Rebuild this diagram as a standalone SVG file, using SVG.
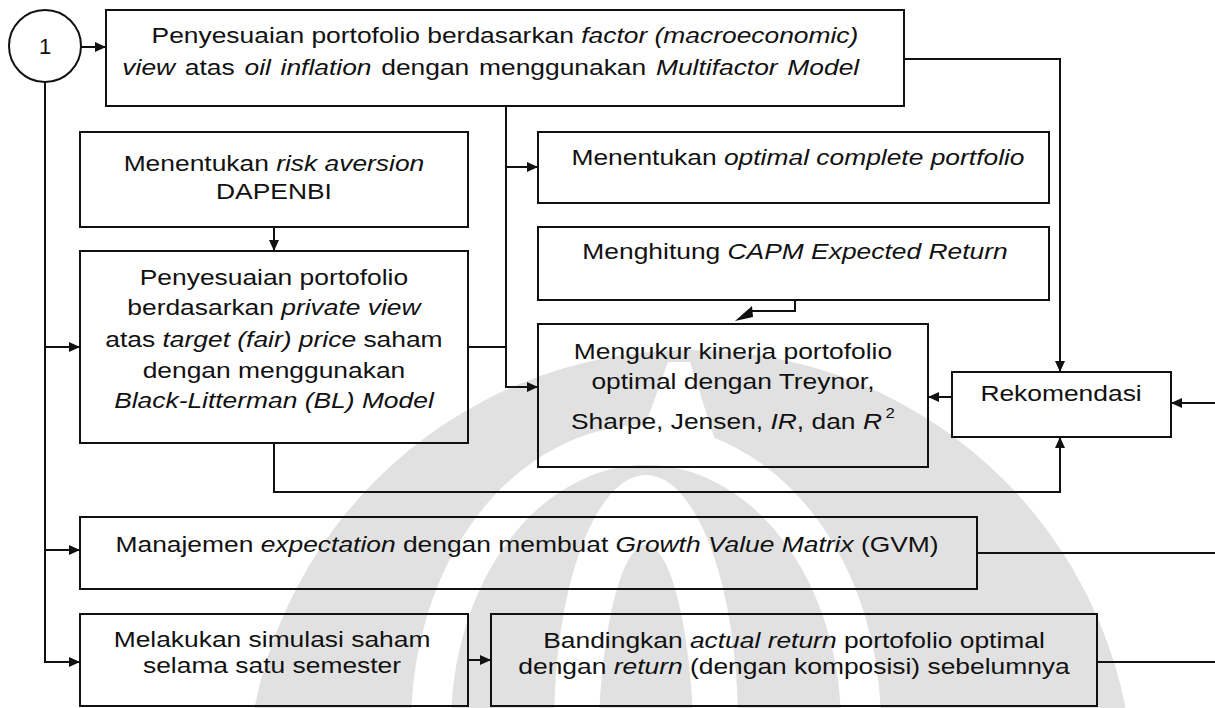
<svg xmlns="http://www.w3.org/2000/svg" width="1215" height="708" viewBox="0 0 1215 708">
<style>
.box{fill:none;stroke:#111;stroke-width:2}
.ln{fill:none;stroke:#111;stroke-width:2}
.t{font-family:"Liberation Sans",Arial,sans-serif;font-size:22px;fill:#111;text-anchor:middle}
.i{font-style:italic}
.wm{fill:#e1e1e1}
</style>
<defs>
<marker id="ah" markerUnits="userSpaceOnUse" markerWidth="12" markerHeight="10" refX="11" refY="5" orient="auto">
<path d="M0,0 L11,5 L0,10 z" fill="#111"/>
</marker>
</defs>
<rect width="1215" height="708" fill="#fff"/>
<g id="watermark">
<circle class="wm" cx="690" cy="794" r="444"/>
<polygon points="668,362 690,362 722,462 632,462" fill="#fff"/>
<ellipse cx="646" cy="725" rx="215" ry="280" fill="none" stroke="#fff" stroke-width="40"/>
<ellipse cx="646" cy="725" rx="92" ry="250" fill="#fff"/>
<ellipse cx="646" cy="760" rx="48" ry="215" class="wm"/>
</g>
<g id="connectors">
<path class="ln" d="M81,47 H106" marker-end="url(#ah)"/>
<path class="ln" d="M45,82 V662 H80" marker-end="url(#ah)"/>
<path class="ln" d="M45,347 H80" marker-end="url(#ah)"/>
<path class="ln" d="M45,550 H80" marker-end="url(#ah)"/>
<path class="ln" d="M274,227 V251" marker-end="url(#ah)"/>
<path class="ln" d="M506,106 V387 H538" marker-end="url(#ah)"/>
<path class="ln" d="M506,167 H538" marker-end="url(#ah)"/>
<path class="ln" d="M468,347 H506"/>
<path class="ln" d="M904,59 H1060 V372" marker-end="url(#ah)"/>
<path class="ln" d="M795,300 V311 H750"/>
<polygon points="735,321 752,306 753,317" fill="#111"/>
<path class="ln" d="M952,397 H928" marker-end="url(#ah)"/>
<path class="ln" d="M1215,403 H1171" marker-end="url(#ah)"/>
<path class="ln" d="M274,443 V492 H1060 V437" marker-end="url(#ah)"/>
<path class="ln" d="M977,553 H1215"/>
<path class="ln" d="M468,660 H491" marker-end="url(#ah)"/>
<path class="ln" d="M1097,662 H1215"/>
</g>
<g id="n-start">
<circle cx="45" cy="46" r="36" fill="none" stroke="#111" stroke-width="2"/>
<text class="t" x="45" y="54">1</text>
</g>
<g id="n-multifactor">
<rect class="box" x="106" y="10" width="798" height="96"/>
<text class="t" x="420.8" y="43" transform="scale(1.2 1)">Penyesuaian portofolio berdasarkan <tspan class="i">factor (macroeconomic)</tspan></text>
<text class="t" x="409" y="75" transform="scale(1.2 1)" word-spacing="2"><tspan class="i">view</tspan> atas <tspan class="i">oil inflation</tspan> dengan menggunakan <tspan class="i">Multifactor Model</tspan></text>
</g>
<g id="n-risk">
<rect class="box" x="80" y="132" width="388" height="95"/>
<text class="t" x="228.3" y="171" transform="scale(1.2 1)">Menentukan <tspan class="i">risk aversion</tspan></text>
<text class="t" x="228.3" y="199" transform="scale(1.2 1)">DAPENBI</text>
</g>
<g id="n-bl">
<rect class="box" x="80" y="251" width="388" height="192"/>
<text class="t" x="228.3" y="285" transform="scale(1.2 1)">Penyesuaian portofolio</text>
<text class="t" x="228.3" y="315" transform="scale(1.2 1)">berdasarkan <tspan class="i">private view</tspan></text>
<text class="t" x="228.3" y="347" transform="scale(1.2 1)">atas <tspan class="i">target (fair) price</tspan> saham</text>
<text class="t" x="228.3" y="378" transform="scale(1.2 1)">dengan menggunakan</text>
<text class="t" x="228.3" y="408" transform="scale(1.2 1)"><tspan class="i">Black-Litterman (BL) Model</tspan></text>
</g>
<g id="n-optimal">
<rect class="box" x="538" y="132" width="511" height="71"/>
<text class="t" x="665" y="165" transform="scale(1.2 1)">Menentukan <tspan class="i">optimal complete portfolio</tspan></text>
</g>
<g id="n-capm">
<rect class="box" x="538" y="227" width="511" height="73"/>
<text class="t" x="662.5" y="259" transform="scale(1.2 1)">Menghitung <tspan class="i">CAPM Expected Return</tspan></text>
</g>
<g id="n-kinerja">
<rect class="box" x="538" y="324" width="390" height="143"/>
<text class="t" x="610.8" y="359" transform="scale(1.2 1)">Mengukur kinerja portofolio</text>
<text class="t" x="610.8" y="389" transform="scale(1.2 1)">optimal dengan Treynor,</text>
<text class="t" x="610.8" y="429" transform="scale(1.2 1)">Sharpe, Jensen, <tspan class="i">IR</tspan>, dan <tspan class="i">R</tspan><tspan dx="3" dy="-11" font-size="14">2</tspan></text>
</g>
<g id="n-rekomendasi">
<rect class="box" x="952" y="372" width="219" height="65"/>
<text class="t" x="884.2" y="401" transform="scale(1.2 1)">Rekomendasi</text>
</g>
<g id="n-gvm">
<rect class="box" x="80" y="517" width="897" height="72"/>
<text class="t" x="439.2" y="552" transform="scale(1.2 1)">Manajemen <tspan class="i">expectation</tspan> dengan membuat <tspan class="i">Growth Value Matrix</tspan> (GVM)</text>
</g>
<g id="n-simulasi">
<rect class="box" x="80" y="614" width="388" height="92"/>
<text class="t" x="226.7" y="647" transform="scale(1.2 1)">Melakukan simulasi saham</text>
<text class="t" x="226.7" y="673" transform="scale(1.2 1)">selama satu semester</text>
</g>
<g id="n-bandingkan">
<rect class="box" x="491" y="614" width="606" height="92"/>
<text class="t" x="661.7" y="648" transform="scale(1.2 1)">Bandingkan <tspan class="i">actual return</tspan> portofolio optimal</text>
<text class="t" x="661.7" y="674" transform="scale(1.2 1)">dengan <tspan class="i">return</tspan> (dengan komposisi) sebelumnya</text>
</g>
</svg>
